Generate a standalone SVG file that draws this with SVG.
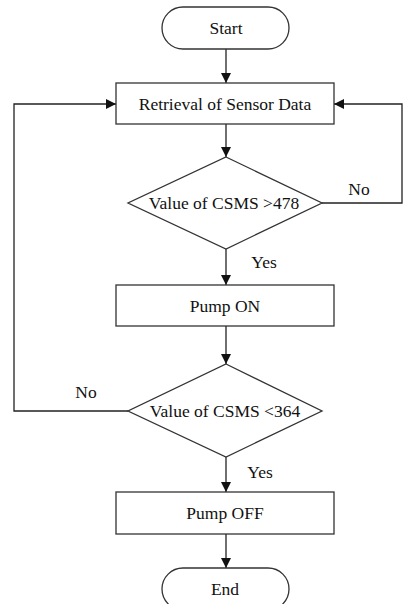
<svg xmlns="http://www.w3.org/2000/svg" width="403" height="604" viewBox="0 0 403 604">
<defs>
<marker id="ah" viewBox="0 0 10 10" refX="10" refY="5" markerWidth="10" markerHeight="10" markerUnits="userSpaceOnUse" orient="auto">
<path d="M0,0 L10,5 L0,10 Z" fill="#111"/>
</marker>
<style>
.s{fill:#fff;stroke:#333;stroke-width:1.3}
.c{fill:none;stroke:#222;stroke-width:1.3}
.t{font-family:"Liberation Serif","Times New Roman",serif;font-size:17.5px;fill:#111;text-anchor:middle}
</style>
</defs>
<rect width="403" height="604" fill="#fff"/>
<g id="connectors">
<line class="c" x1="226" y1="49" x2="226" y2="83" marker-end="url(#ah)"/>
<line class="c" x1="226" y1="124" x2="226" y2="157" marker-end="url(#ah)"/>
<polyline class="c" points="322,203 402,203 402,104 334,104" marker-end="url(#ah)"/>
<line class="c" x1="226" y1="249" x2="226" y2="285" marker-end="url(#ah)"/>
<line class="c" x1="226" y1="326" x2="226" y2="364" marker-end="url(#ah)"/>
<polyline class="c" points="128,411 14,411 14,104 116,104" marker-end="url(#ah)"/>
<line class="c" x1="226" y1="457" x2="226" y2="492" marker-end="url(#ah)"/>
<line class="c" x1="226" y1="534" x2="226" y2="568" marker-end="url(#ah)"/>
<text class="t" x="359" y="195">No</text>
<text class="t" x="264" y="268">Yes</text>
<text class="t" x="86" y="398">No</text>
<text class="t" x="260" y="478">Yes</text>
</g>
<g id="start">
<rect class="s" x="162" y="7" width="127" height="42" rx="21" ry="21"/>
<text class="t" x="226" y="34">Start</text>
</g>
<g id="retrieval">
<rect class="s" x="116" y="83" width="218" height="41"/>
<text class="t" x="225" y="110">Retrieval of Sensor Data</text>
</g>
<g id="decision1">
<polygon class="s" points="226,157 322,203 226,249 128,203"/>
<text class="t" x="224" y="209">Value of CSMS &gt;478</text>
</g>
<g id="pumpon">
<rect class="s" x="116" y="285" width="218" height="41"/>
<text class="t" x="225" y="312">Pump ON</text>
</g>
<g id="decision2">
<polygon class="s" points="226,364 322,411 226,457 128,411"/>
<text class="t" x="225" y="417">Value of CSMS &lt;364</text>
</g>
<g id="pumpoff">
<rect class="s" x="116" y="492" width="218" height="42"/>
<text class="t" x="225" y="519">Pump OFF</text>
</g>
<g id="end">
<rect class="s" x="162" y="568" width="127" height="42" rx="21" ry="21"/>
<text class="t" x="225" y="595">End</text>
</g>
</svg>
